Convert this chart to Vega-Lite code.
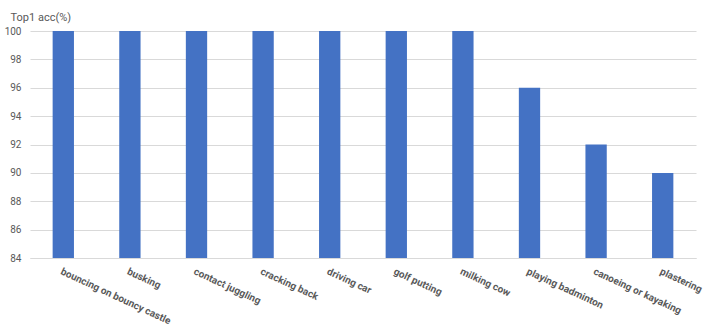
{
  "$schema": "https://vega.github.io/schema/vega-lite/v6.json",
  "autosize": "none",
  "width": 666,
  "height": 227,
  "padding": {"left": 30, "top": 31, "right": 12, "bottom": 72},
  "background": "white",
  "data": {"values": [
    {"action": "bouncing on bouncy castle", "acc": 100},
    {"action": "busking", "acc": 100},
    {"action": "contact juggling", "acc": 100},
    {"action": "cracking back", "acc": 100},
    {"action": "driving car", "acc": 100},
    {"action": "golf putting", "acc": 100},
    {"action": "milking cow", "acc": 100},
    {"action": "playing badminton", "acc": 96},
    {"action": "canoeing or kayaking", "acc": 92},
    {"action": "plastering", "acc": 90}
  ]},
  "mark": {"type": "bar", "color": "#4472C4", "clip": true},
  "encoding": {
    "x": {
      "field": "action", "type": "nominal", "sort": null,
      "scale": {"paddingInner": 0.68, "paddingOuter": 0.34},
      "axis": {
        "title": null, "labelAngle": 25, "ticks": false, "labelPadding": 8,
        "labelFont": "Roboto", "labelFontWeight": "bold", "labelFontSize": 10,
        "labelColor": "#595959", "domainColor": "#d9d9d9", "labelOverlap": false
      }
    },
    "y": {
      "field": "acc", "type": "quantitative",
      "scale": {"domain": [84, 100], "zero": false, "nice": false},
      "axis": {
        "values": [84, 86, 88, 90, 92, 94, 96, 98, 100],
        "title": "Top1 acc(%)", "titleAngle": 0, "titleX": -20, "titleY": -14,
        "titleAlign": "left", "titleBaseline": "middle",
        "titleFont": "Roboto", "titleFontWeight": "normal", "titleFontSize": 11, "titleColor": "#595959",
        "labelFont": "Roboto", "labelFontSize": 10, "labelColor": "#595959",
        "labelPadding": 9, "ticks": false, "domain": false,
        "gridColor": "#d9d9d9", "gridWidth": 1
      }
    },
    "y2": {"datum": 84}
  },
  "config": {"view": {"stroke": null}}
}
